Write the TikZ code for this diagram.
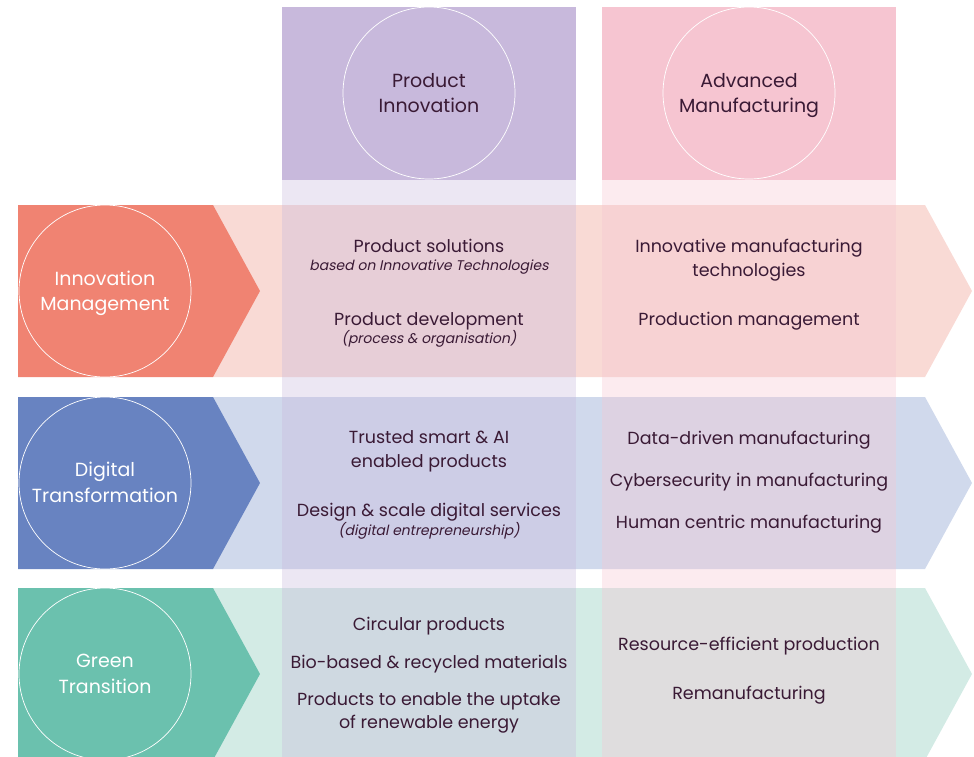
\documentclass[tikz,border=0pt]{standalone}
\usepackage{fontspec}
\setmainfont{Poppins}[ItalicFont=Poppins, ItalicFeatures={FakeSlant=0.2}]
\definecolor{imS}{HTML}{F08372}
\definecolor{imL}{HTML}{F9DAD5}
\definecolor{dtS}{HTML}{6883C1}
\definecolor{dtL}{HTML}{D0D9EC}
\definecolor{gtS}{HTML}{6BC1AE}
\definecolor{gtL}{HTML}{D3EBE5}
\definecolor{piS}{HTML}{C8B9DC}
\definecolor{amS}{HTML}{F6C5D1}
\definecolor{ink}{HTML}{3A1A35}
\tikzset{
  maintext/.style={text=ink, anchor=base, inner sep=0pt, font=\fontsize{17.5}{24}\selectfont},
  subtext/.style={text=ink, anchor=base, inner sep=0pt, font=\fontsize{14}{16}\selectfont\itshape},
  ring/.style={circle, draw=white, line width=0.7pt, minimum size=172pt, inner sep=0pt},
  rowtext/.style={text=white, anchor=base, inner sep=0pt, font=\fontsize{19}{25}\selectfont},
  coltext/.style={text=ink, anchor=base, inner sep=0pt, font=\fontsize{19}{25}\selectfont},
  overlay col/.style={fill opacity=0.35}
}
\begin{document}
\begin{tikzpicture}[x=1pt,y=-1pt]
\useasboundingbox (0,0) rectangle (974,756);
% light bands
\fill[imL] (213,205) -- (925,205) -- (972,291) -- (925,377) -- (213,377) -- cycle;
\fill[dtL] (213,397) -- (925,397) -- (972,483) -- (925,569) -- (213,569) -- cycle;
\fill[gtL] (213,588) -- (925,588) -- (972,674) -- (925,760) -- (213,760) -- cycle;
% solid chevrons
\fill[imS] (18,205) -- (213,205) -- (260,291) -- (213,377) -- (18,377) -- cycle;
\fill[dtS] (18,397) -- (213,397) -- (260,483) -- (213,569) -- (18,569) -- cycle;
\fill[gtS] (18,588) -- (213,588) -- (260,674) -- (213,760) -- (18,760) -- cycle;
% columns
\fill[piS] (282,7) rectangle (576,180);
\fill[amS] (602,7) rectangle (896,180);
\fill[piS, overlay col] (282,180) rectangle (576,760);
\fill[amS, overlay col] (602,180) rectangle (896,760);
% circles
\node[ring] (pi) at (429,93) {};
\node[ring] (am) at (749,93) {};
\node[ring] (im) at (105,291) {};
\node[ring] (dt) at (105,483) {};
\node[ring] (gt) at (105,674) {};
\node[coltext] (pi1) at (429,87) {Product};
\node[coltext] (pi2) at (429,112) {Innovation};
\node[coltext] (am1) at (749,87) {Advanced};
\node[coltext] (am2) at (749,112) {Manufacturing};
\node[rowtext] (im1) at (105,285) {Innovation};
\node[rowtext] (im2) at (105,310) {Management};
\node[rowtext] (dt1) at (105,476) {Digital};
\node[rowtext] (dt2) at (105,502) {Transformation};
\node[rowtext] (gt1) at (105,667) {Green};
\node[rowtext] (gt2) at (105,693) {Transition};
% row 1
\node[maintext] (a1) at (429,252.5) {Product solutions};
\node[subtext] (a1s) at (429,270.5) {based on Innovative Technologies};
\node[maintext] (a2) at (429,325.5) {Product development};
\node[subtext] (a2s) at (429,343.5) {(process \& organisation)};
\node[maintext] (b1) at (749,252.5) {Innovative manufacturing};
\node[maintext] (b1b) at (749,276) {technologies};
\node[maintext] (b2) at (749,325) {Production management};
% row 2
\node[maintext] (c1) at (429,443.5) {Trusted smart \& AI};
\node[maintext] (c1b) at (429,467) {enabled products};
\node[maintext] (c2) at (429,516.5) {Design \& scale digital services};
\node[subtext] (c2s) at (429,535) {(digital entrepreneurship)};
\node[maintext] (d1) at (749,444.5) {Data-driven manufacturing};
\node[maintext] (d2) at (749,486.5) {Cybersecurity in manufacturing};
\node[maintext] (d3) at (749,528.5) {Human centric manufacturing};
% row 3
\node[maintext] (e1) at (429,630.5) {Circular products};
\node[maintext] (e2) at (429,668) {Bio-based \& recycled materials};
\node[maintext] (e3) at (429,705) {Products to enable the uptake};
\node[maintext] (e3b) at (429,728.5) {of renewable energy};
\node[maintext] (f1) at (749,650.5) {Resource-efficient production};
\node[maintext] (f2) at (749,699) {Remanufacturing};
\end{tikzpicture}
\end{document}
